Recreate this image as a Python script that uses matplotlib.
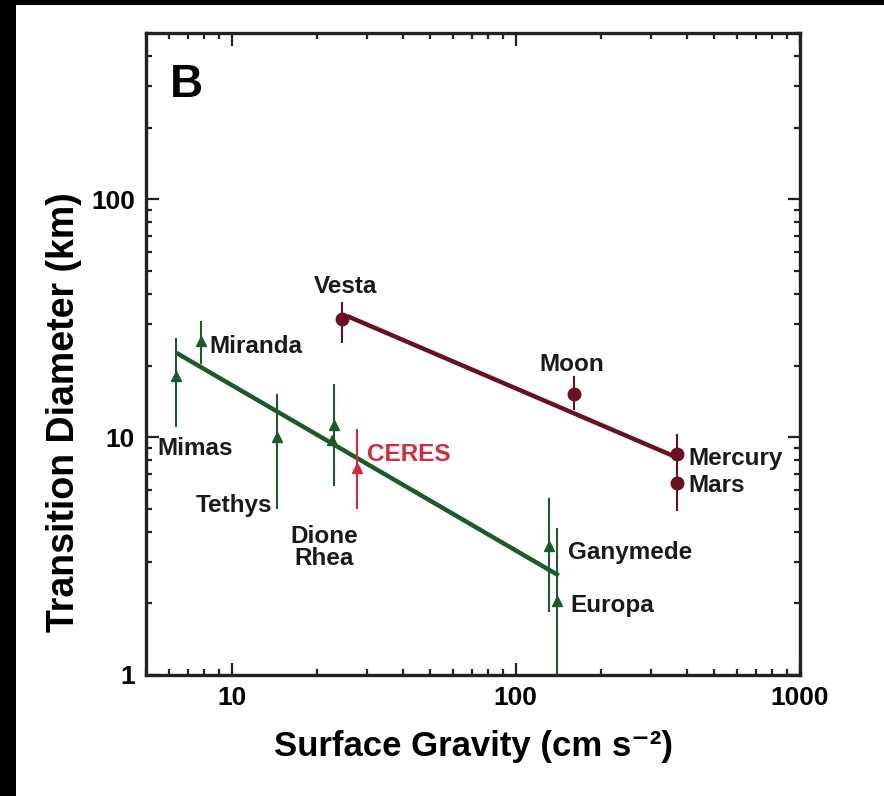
import numpy as np
import matplotlib
matplotlib.use("Agg")
import matplotlib.pyplot as plt
from matplotlib.patches import Rectangle
from matplotlib.ticker import FixedLocator, FixedFormatter, LogLocator, NullFormatter

# icy satellites (green triangles)
icy_names = ["Mimas", "Miranda", "Tethys", "Dione", "Rhea", "Ganymede", "Europa"]
icy_g = [6.4, 7.8, 14.5, 23.0, 22.6, 130.6, 140.0]
icy_d = [18.0, 25.4, 10.0, 11.2, 9.7, 3.47, 2.05]
icy_lo = [11.0, 20.3, 5.0, 6.25, 9.7, 1.84, 0.5]
icy_hi = [26.0, 30.8, 15.2, 16.7, 9.7, 5.56, 4.14]

# ceres (red triangle)
ceres_g = [27.7]
ceres_d = [7.45]
ceres_lo = [5.0]
ceres_hi = [10.8]

# rocky bodies (dark red circles)
rocky_names = ["Vesta", "Moon", "Mercury", "Mars"]
rocky_g = [24.5, 160.0, 370.0, 370.0]
rocky_d = [31.5, 15.2, 8.47, 6.44]
rocky_lo = [24.9, 13.0, 7.3, 4.9]
rocky_hi = [36.9, 18.0, 10.3, 7.6]

# fitted trend lines (end points)
icy_fit_g = [6.4, 141.6]
icy_fit_d = [22.6, 2.62]
rocky_fit_g = [25.5, 370.0]
rocky_fit_d = [32.3, 8.2]

x_ticks = [10, 100, 1000]
x_tick_labels = ["10", "100", "1000"]
y_ticks = [1, 10, 100]
y_tick_labels = ["1", "10", "100"]

GREEN = "#1d5a2b"
MAROON = "#6a1020"
RED = "#d42a3c"
FONT = "Liberation Sans"

fig = plt.figure(figsize=(8.84, 7.96), dpi=100, facecolor="black")
fig.patches.append(Rectangle((16 / 884, 0), 1, 1 - 5 / 796, transform=fig.transFigure,
                             facecolor="white", edgecolor="none", zorder=-10))
ax = fig.add_axes([146 / 884, 1 - 675 / 796, 654 / 884, 642 / 796])
ax.set_xscale("log")
ax.set_yscale("log")
ax.set_xlim(5, 1000)
ax.set_ylim(1, 500)

def yerr(d, lo, hi):
    d = np.array(d); lo = np.array(lo); hi = np.array(hi)
    return [d - lo, hi - d]

ax.plot(icy_fit_g, icy_fit_d, color=GREEN, lw=3.2, solid_capstyle="butt", zorder=3)
ax.plot(rocky_fit_g, rocky_fit_d, color=MAROON, lw=3.2, solid_capstyle="butt", zorder=3)

ax.errorbar(icy_g, icy_d, yerr=yerr(icy_d, icy_lo, icy_hi), fmt="^", color=GREEN,
            ms=7, elinewidth=1.5, capsize=0, zorder=4)
ax.errorbar(ceres_g, ceres_d, yerr=yerr(ceres_d, ceres_lo, ceres_hi), fmt="^", color=RED,
            ms=7, elinewidth=1.5, capsize=0, zorder=4)
ax.errorbar(rocky_g, rocky_d, yerr=yerr(rocky_d, rocky_lo, rocky_hi), fmt="o", color=MAROON,
            ms=9, elinewidth=1.5, capsize=0, zorder=4)

lab = dict(fontsize=17.5, fontweight="bold", family=FONT, color="#1a1a1a")
ax.text(25.1, 42.8, "Vesta", ha="center", va="center", **lab)
ax.text(8.37, 24.0, "Miranda", ha="left", va="center", **lab)
ax.text(5.5, 9.0, "Mimas", ha="left", va="center", **lab)
ax.text(13.9, 5.15, "Tethys", ha="right", va="center", **lab)
ax.text(21.2, 3.43, "Dione\nRhea", ha="center", va="center", linespacing=0.95, **lab)
ax.text(157, 20.2, "Moon", ha="center", va="center", **lab)
ax.text(404, 8.17, "Mercury", ha="left", va="center", **lab)
ax.text(404, 6.24, "Mars", ha="left", va="center", **lab)
ax.text(153, 3.27, "Ganymede", ha="left", va="center", **lab)
ax.text(156, 1.96, "Europa", ha="left", va="center", **lab)
ax.text(30.0, 8.49, "CERES", ha="left", va="center", fontsize=17.5, fontweight="bold",
        family=FONT, color=RED)

ax.text(0.037, 0.953, "B", transform=ax.transAxes, ha="left", va="top",
        fontsize=33, fontweight="bold", family=FONT)

ax.xaxis.set_major_locator(FixedLocator(x_ticks))
ax.xaxis.set_major_formatter(FixedFormatter(x_tick_labels))
ax.yaxis.set_major_locator(FixedLocator(y_ticks))
ax.yaxis.set_major_formatter(FixedFormatter(y_tick_labels))
ax.xaxis.set_minor_locator(LogLocator(base=10, subs=np.arange(2, 10)))
ax.yaxis.set_minor_locator(LogLocator(base=10, subs=np.arange(2, 10)))
ax.xaxis.set_minor_formatter(NullFormatter())
ax.yaxis.set_minor_formatter(NullFormatter())

ax.tick_params(which="both", direction="in", top=True, right=True, width=1.6, color="#222222")
ax.tick_params(which="major", length=9, pad=8)
ax.tick_params(which="minor", length=4.5)
for t in ax.get_xticklabels() + ax.get_yticklabels():
    t.set_fontsize(19)
    t.set_fontweight("bold")
    t.set_family(FONT)
for s in ax.spines.values():
    s.set_linewidth(2.4)
    s.set_color("#222222")

ax.set_xlabel("Surface Gravity (cm s\u207b\u00b2)", fontsize=25, fontweight="bold",
              family=[FONT, "DejaVu Sans"], labelpad=14)
ax.set_ylabel("Transition Diameter (km)", fontsize=27, fontweight="bold", family=FONT)
ax.yaxis.set_label_coords(-0.098, 0.41)

fig.savefig("out.png", dpi=100, facecolor=fig.get_facecolor())
